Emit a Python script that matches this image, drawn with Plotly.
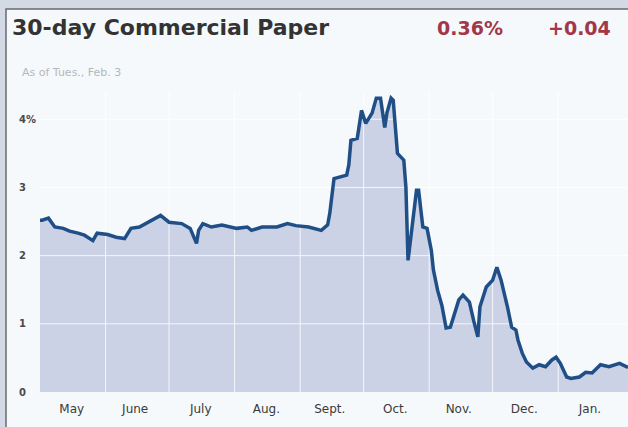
import plotly.graph_objects as go

# ---- data ----
dates = [
    "2008-05-01", "2008-05-02", "2008-05-05", "2008-05-08", "2008-05-12", "2008-05-15",
    "2008-05-19", "2008-05-22", "2008-05-26", "2008-05-28", "2008-06-02", "2008-06-06",
    "2008-06-10", "2008-06-13", "2008-06-17", "2008-06-20", "2008-06-24", "2008-06-27",
    "2008-07-01", "2008-07-07", "2008-07-11", "2008-07-14", "2008-07-15", "2008-07-17",
    "2008-07-21", "2008-07-26", "2008-08-02", "2008-08-07", "2008-08-09", "2008-08-14",
    "2008-08-21", "2008-08-26", "2008-08-30", "2008-09-05", "2008-09-11", "2008-09-14",
    "2008-09-15", "2008-09-17", "2008-09-23", "2008-09-24", "2008-09-25", "2008-09-28",
    "2008-09-30", "2008-10-02", "2008-10-05", "2008-10-07", "2008-10-09", "2008-10-11",
    "2008-10-12", "2008-10-14", "2008-10-15", "2008-10-17", "2008-10-20", "2008-10-21",
    "2008-10-22", "2008-10-26", "2008-10-27", "2008-10-29", "2008-10-31", "2008-11-02",
    "2008-11-03", "2008-11-05", "2008-11-07", "2008-11-09", "2008-11-11", "2008-11-15",
    "2008-11-17", "2008-11-20", "2008-11-22", "2008-11-24", "2008-11-25", "2008-11-28",
    "2008-12-01", "2008-12-03", "2008-12-05", "2008-12-06", "2008-12-08", "2008-12-10",
    "2008-12-12", "2008-12-13", "2008-12-15", "2008-12-17", "2008-12-20", "2008-12-23",
    "2008-12-26", "2008-12-29", "2008-12-31", "2009-01-02", "2009-01-05", "2009-01-07",
    "2009-01-11", "2009-01-14", "2009-01-17", "2009-01-21", "2009-01-25", "2009-01-30",
    "2009-02-02", "2009-02-03",
]
rates = [
    2.52, 2.52, 2.55, 2.42, 2.40, 2.36,
    2.33, 2.30, 2.22, 2.33, 2.31, 2.27,
    2.25, 2.40, 2.42, 2.47, 2.55, 2.59,
    2.49, 2.47, 2.40, 2.18, 2.37, 2.47,
    2.42, 2.45, 2.40, 2.42, 2.37, 2.42,
    2.42, 2.47, 2.44, 2.42, 2.37, 2.45,
    2.62, 3.13, 3.18, 3.33, 3.69, 3.72,
    4.13, 3.94, 4.09, 4.31, 4.31, 3.88,
    4.09, 4.31, 4.28, 3.50, 3.40, 3.00,
    1.93, 2.96, 2.96, 2.42, 2.40, 2.08,
    1.79, 1.49, 1.27, 0.94, 0.95, 1.35,
    1.42, 1.32, 1.05, 0.81, 1.25, 1.54,
    1.64, 1.83, 1.64, 1.52, 1.25, 0.95,
    0.91, 0.76, 0.57, 0.44, 0.35, 0.40,
    0.37, 0.47, 0.51, 0.42, 0.22, 0.20,
    0.22, 0.29, 0.28, 0.40, 0.37, 0.42,
    0.37, 0.36,
]
month_labels = ["May", "June", "July", "Aug.", "Sept.", "Oct.", "Nov.", "Dec.", "Jan."]
month_mids = ["2008-05-16", "2008-06-15", "2008-07-16", "2008-08-16", "2008-09-15",
              "2008-10-16", "2008-11-15", "2008-12-16", "2009-01-16"]
month_starts = ["2008-06-01", "2008-07-01", "2008-08-01", "2008-09-01", "2008-10-01",
                "2008-11-01", "2008-12-01", "2009-01-01"]
y_ticks = [0, 1, 2, 3, 4]
y_ticktext = ["0", "1", "2", "3", "4%"]
x_range = ["2008-05-01", "2009-02-03"]
y_range = [0, 4.4]

title_text = "30-day Commercial Paper"
last_value = "0.36%"
change_value = "+0.04"
asof_text = "As of Tues., Feb. 3"

W, H = 628, 427
LEFT, BOTTOM, TOP = 40, 392, 92

fig = go.Figure()

# filled area
fig.add_trace(go.Scatter(x=dates, y=rates, mode="lines", line=dict(width=0),
                         fill="tozeroy", fillcolor="#cbd2e5", hoverinfo="skip",
                         showlegend=False))

# grid lines drawn above the fill, below the line
gx, gy = [], []
for m in month_starts:
    gx += [m, m, None]
    gy += [y_range[0], y_range[1], None]
for t in y_ticks[1:]:
    gx += [x_range[0], x_range[1], None]
    gy += [t, t, None]
fig.add_trace(go.Scatter(x=gx, y=gy, mode="lines",
                         line=dict(color="rgba(255,255,255,0.8)", width=1),
                         hoverinfo="skip", showlegend=False))

# rate line
fig.add_trace(go.Scatter(x=dates, y=rates, mode="lines",
                         line=dict(color="#1f4f86", width=3.5),
                         showlegend=False))

fig.update_layout(
    width=W, height=H,
    margin=dict(l=0, r=0, t=0, b=0, autoexpand=False),
    paper_bgcolor="#d3dae6",
    plot_bgcolor="rgba(0,0,0,0)",
    font=dict(family="DejaVu Sans", color="#444"),
    xaxis=dict(
        domain=[LEFT / W, 1],
        range=x_range, type="date", automargin=False,
        tickvals=month_mids, ticktext=month_labels,
        tickfont=dict(family="DejaVu Sans", size=12, color="#3a3a3a"),
        ticks="outside", ticklen=6, tickcolor="rgba(0,0,0,0)",
        showgrid=False, zeroline=False, showline=False,
    ),
    yaxis=dict(
        domain=[(H - BOTTOM) / H, (H - TOP) / H],
        range=y_range, automargin=False,
        anchor="free", position=15 / W,
        tickvals=y_ticks, ticktext=y_ticktext,
        ticklabelposition="inside", ticklabeloverflow="allow",
        tickfont=dict(family="DejaVu Sans", size=10, color="#4a4a4a", weight="bold"),
        ticks="", showgrid=False, zeroline=False, showline=False,
    ),
    shapes=[
        dict(type="rect", xref="paper", yref="paper", layer="below",
             x0=6 / W, x1=1.05, y0=-0.05, y1=1 - 9 / H,
             fillcolor="#f6f9fc", line=dict(color="#6a6a6a", width=1.5)),
    ],
    annotations=[
        dict(text="<b>" + title_text + "</b>", x=10 / W, y=1 - 28 / H,
             xref="paper", yref="paper", xanchor="left", yanchor="middle",
             showarrow=False, font=dict(family="DejaVu Sans", size=22, color="#333333")),
        dict(text="<b>" + last_value + "</b>", x=505 / W, y=1 - 28 / H,
             xref="paper", yref="paper", xanchor="right", yanchor="middle",
             showarrow=False, font=dict(family="DejaVu Sans", size=19, color="#a3374a")),
        dict(text="<b>" + change_value + "</b>", x=613 / W, y=1 - 28 / H,
             xref="paper", yref="paper", xanchor="right", yanchor="middle",
             showarrow=False, font=dict(family="DejaVu Sans", size=19, color="#a3374a")),
        dict(text=asof_text, x=20 / W, y=1 - 73 / H,
             xref="paper", yref="paper", xanchor="left", yanchor="middle",
             showarrow=False, font=dict(family="DejaVu Sans", size=11, color="#b4b7bc")),
    ],
)

fig.write_html("out.html",
               config={"displayModeBar": False},
               post_script="document.body.style.margin='0';document.body.style.padding='0';")
